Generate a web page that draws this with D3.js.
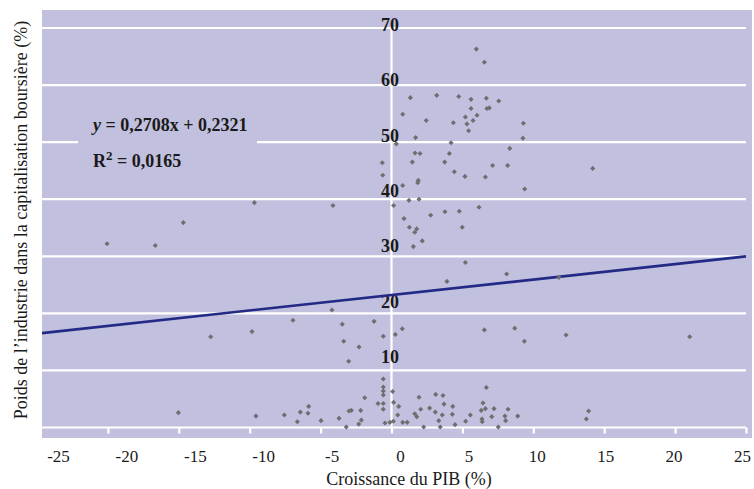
<!DOCTYPE html>
<html>
<head>
<meta charset="utf-8">
<script src="https://cdnjs.cloudflare.com/ajax/libs/d3/7.8.5/d3.min.js"></script>
<style>
    body { margin: 0; background: #fff; }
    text { font-family: 'Liberation Serif', 'Times New Roman', serif; fill: #1a1a1a; }
</style>
</head>
<body>
<script>
// croissance du PIB (%) for each point
const growth = [
    5.98, 6.55, 1.33, 3.19, 4.74, 5.61, 6.69, 7.56, 0.79, 2.45, 4.36, 5.61, 5.21, 5.32, 5.75, 6.03,
    6.73, 6.90, 5.44, 1.70, 0.34, 4.20, 8.34, 1.66, 2.01, 4.08, -0.65, 1.47, 3.75, 7.13, 8.19, -0.62,
    4.43, 5.18, 6.62, 1.89, 1.85, 0.79, 9.30, 9.27, 14.19, 9.39, -9.67, -20.06, -16.66, -14.68, -12.75, -9.84,
    -4.13, 0.15, 1.23, 1.94, 0.88, 2.76, 3.77, 4.78, 6.17, 1.26, 1.78, 1.64, 4.99, 2.17, 1.54, 5.21,
    3.91, 8.12, -4.20, -6.95, -3.47, -1.23, 0.76, 0.27, -0.58, -3.37, -2.29, -3.02, 6.55, 8.69, -0.58, -0.58,
    6.69, 11.81, 9.37, 12.31, 21.03, -15.03, -9.56, -0.58, -0.58, -0.58, -0.58, -0.95, 0.08, 0.15, 0.51, 0.44,
    -0.46, -0.11, 0.13, 0.79, 1.11, -1.89, -2.17, -2.13, -2.31, -3.00, -2.83, -3.19, -3.70, -4.97, -5.84, -5.89,
    -6.43, -6.64, -7.56, 1.64, 1.78, 1.94, 2.06, 2.27, 2.69, 3.12, 3.09, 3.33, 3.44, 3.58, 3.63, 3.70,
    4.32, 4.29, 4.48, 5.23, 5.56, 6.33, 6.45, 6.62, 6.38, 6.40, 7.07, 7.23, 7.53, 8.00, 8.05, 8.22,
    8.90, 13.90, 13.74
]
// poids de l'industrie dans la capitalisation (%)
const weight = [
    66.3, 64.0, 57.8, 58.2, 58.0, 57.5, 57.7, 57.2, 54.9, 53.8, 53.4, 55.9, 54.4, 53.2, 53.8, 54.7,
    55.9, 56.0, 52.0, 50.8, 49.7, 49.9, 48.9, 48.1, 48.0, 48.0, 46.4, 46.5, 46.5, 45.9, 45.9, 44.2,
    44.8, 44.0, 43.9, 43.3, 42.9, 42.4, 53.3, 50.7, 45.4, 41.8, 39.4, 32.2, 31.9, 35.9, 15.9, 16.8,
    38.9, 38.9, 39.8, 40.0, 36.6, 37.2, 37.8, 37.9, 38.6, 35.1, 34.8, 34.2, 35.1, 32.7, 31.7, 28.9,
    25.6, 26.9, 20.6, 18.8, 18.1, 18.6, 17.3, 16.3, 16.0, 15.1, 14.1, 11.6, 17.1, 17.4, 8.5, 7.1,
    7.0, 26.3, 15.1, 16.2, 15.9, 2.6, 2.0, 6.4, 5.7, 4.2, 3.2, 4.2, 6.3, 4.4, 3.7, 2.2,
    0.8, 0.9, 1.1, 0.9, 0.9, 5.2, 3.0, 1.3, 0.6, 2.9, 3.0, 0.1, 1.6, 1.2, 3.7, 2.5,
    2.7, 1.0, 2.2, 2.4, 1.9, 5.3, 3.2, 0.1, 3.4, 5.8, 2.7, 1.2, 0.1, 2.2, 5.6, 4.1,
    3.7, 2.3, 0.5, 1.1, 2.2, 3.0, 4.3, 3.3, 1.5, 1.0, 1.9, 3.3, 0.1, 2.0, 1.2, 3.2,
    2.0, 2.9, 1.5
]

// axis ticks
const xTicks = [-25, -20, -15, -10, -5, 0, 5, 10, 15, 20, 25]
const yTicks = [10, 20, 30, 40, 50, 60, 70]

// trend line (y in %)
const slope = 0.2708
const intercept = 23.21
const eqText = 'y = 0,2708x + 0,2321'
const r2Text = '0,0165'

const w = 754
const h = 489
const bgColor = '#c1c0de'

const xScale = d3.scaleLinear().domain([-25, 25]).range([37, 746])
const yScale = d3.scaleLinear().domain([0, 70]).range([427.5, 28])
// tick labels sit a little off the ticks in the original
const xLabelScale = d3.scaleLinear().domain([-25, 25]).range([58, 742])
const yLabelScale = d3.scaleLinear().domain([10, 70]).range([363, 31])

const svg = d3.select('body').append('svg')
    .attr('width', w)
    .attr('height', h)

// plot background
svg.append('rect')
    .attr('x', 42).attr('y', 10)
    .attr('width', 710).attr('height', 428)
    .attr('fill', bgColor)

// horizontal grid
svg.append('g')
    .selectAll('line')
    .data(yTicks)
    .join('line')
    .attr('x1', 42)
    .attr('x2', 746)
    .attr('y1', d => yScale(d))
    .attr('y2', d => yScale(d))
    .attr('stroke', '#fff')
    .attr('stroke-width', 2.2)

// vertical line at 0
svg.append('line')
    .attr('x1', xScale(0)).attr('x2', xScale(0))
    .attr('y1', yScale(70)).attr('y2', yScale(0))
    .attr('stroke', '#fff')
    .attr('stroke-width', 2.2)

// x axis: white line + ticks
svg.append('line')
    .attr('x1', 42).attr('x2', 746)
    .attr('y1', yScale(0)).attr('y2', yScale(0))
    .attr('stroke', '#fff')
    .attr('stroke-width', 2.2)

const xAxis = d3.axisBottom(xScale).tickValues(xTicks).tickSize(6).tickFormat('')
const gx = svg.append('g')
    .attr('transform', `translate(0,${yScale(0)})`)
    .call(xAxis)
gx.select('.domain').remove()
gx.selectAll('.tick line').attr('stroke', '#fff').attr('stroke-width', 2.2)

// x tick labels (plain hyphen for negatives)
const xLabels = d3.axisBottom(xLabelScale).tickValues(xTicks).tickSize(0).tickFormat(d => String(d))
const gxl = svg.append('g')
    .attr('transform', 'translate(0,447)')
    .call(xLabels)
gxl.select('.domain').remove()
gxl.selectAll('text')
    .attr('font-size', 17)
    .attr('font-family', 'Liberation Serif')
    .attr('fill', '#1a1a1a')

// mask behind equation
svg.append('rect')
    .attr('x', 78).attr('y', 100)
    .attr('width', 179).attr('height', 84)
    .attr('fill', bgColor)

// y labels (bold, on the zero line)
svg.append('g')
    .selectAll('text')
    .data(yTicks)
    .join('text')
    .attr('x', 390)
    .attr('y', d => yLabelScale(d))
    .attr('text-anchor', 'middle')
    .attr('font-size', 18)
    .attr('font-weight', 'bold')
    .text(d => d)

// regression line
const x0 = xScale.invert(42)
svg.append('line')
    .attr('x1', xScale(x0)).attr('y1', yScale(slope * x0 + intercept))
    .attr('x2', xScale(25)).attr('y2', yScale(slope * 25 + intercept))
    .attr('stroke', '#222a86')
    .attr('stroke-width', 2.6)

// points
const diamond = d3.symbol().type(d3.symbolSquare).size(13)
svg.append('g')
    .selectAll('path')
    .data(growth)
    .join('path')
    .attr('d', diamond)
    .attr('transform', (d, i) => `translate(${xScale(d)},${yScale(weight[i])}) rotate(45)`)
    .attr('fill', '#6e6e70')

// equation text
const eq = svg.append('text')
    .attr('x', 93).attr('y', 131)
    .attr('font-size', 18)
    .attr('font-weight', 'bold')
eq.append('tspan').attr('font-style', 'italic').text('y')
eq.append('tspan').text(eqText.slice(1))

const r2 = svg.append('text')
    .attr('x', 93).attr('y', 167)
    .attr('font-size', 18)
    .attr('font-weight', 'bold')
r2.append('tspan').text('R')
r2.append('tspan').attr('font-size', 13).attr('dy', -7).text('2')
r2.append('tspan').attr('dy', 7).text(' = ' + r2Text)

// axis titles
svg.append('text')
    .attr('x', 409).attr('y', 485)
    .attr('text-anchor', 'middle')
    .attr('font-size', 18)
    .text('Croissance du PIB (%)')

svg.append('text')
    .attr('transform', 'translate(27,220) rotate(-90)')
    .attr('text-anchor', 'middle')
    .attr('font-size', 18)
    .text('Poids de l\u2019industrie dans la capitalisation boursière (%)')
</script>
</body>
</html>
